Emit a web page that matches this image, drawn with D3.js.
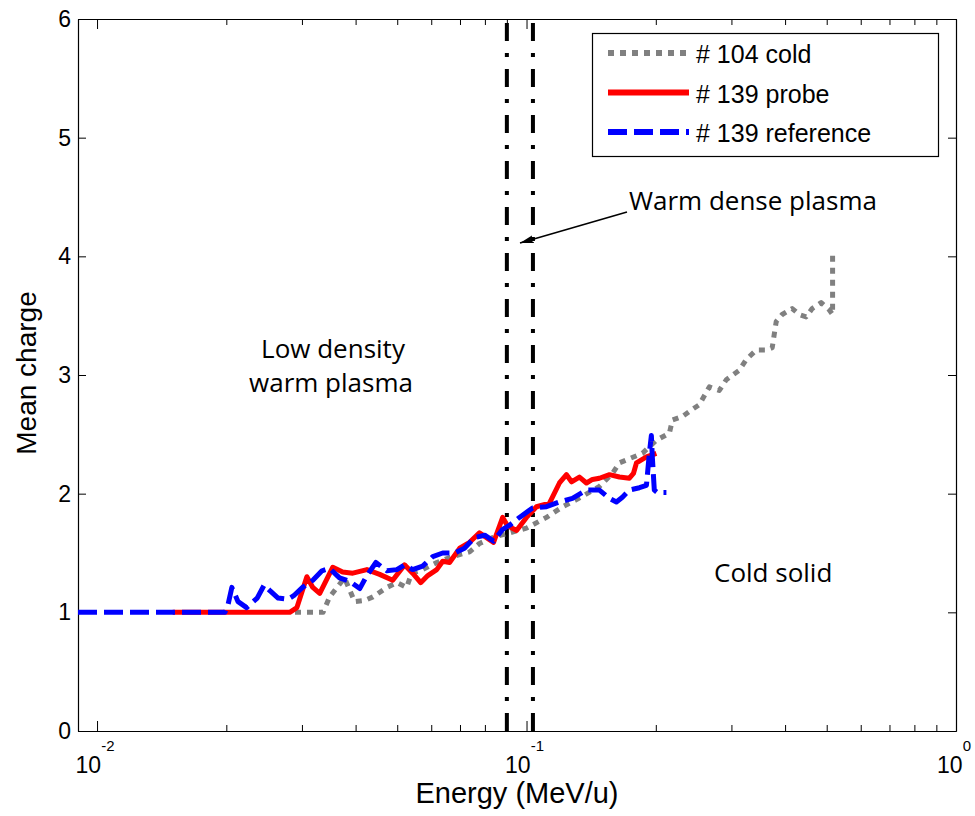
<!DOCTYPE html>
<html>
<head>
<meta charset="utf-8">
<script src="https://cdn.jsdelivr.net/npm/d3@7"></script>
<style>
  body { margin: 0; background: #fff; }
  svg { display: block; }
  text { font-family: "Liberation Sans", Arial, sans-serif; fill: #000; }
  .note { font-family: "Open Sans", "Noto Sans", sans-serif; }
</style>
</head>
<body>
<script>
var width = 975,
  height = 816,
  plotLeft = 78,
  plotRight = 956,
  plotTop = 19,
  plotBottom = 731;

// # 104 cold
var coldE = [0.0289, 0.0336, 0.0348, 0.0362, 0.0377, 0.0398, 0.042, 0.0439, 0.0473, 0.0499,
  0.0526, 0.054, 0.0573, 0.0618, 0.0673, 0.0737, 0.0777, 0.0834, 0.0913, 0.1, 0.1113,
  0.1213, 0.1307, 0.1478, 0.1585, 0.1646, 0.1861, 0.2006, 0.2151, 0.2186, 0.2306, 0.2432,
  0.2526, 0.2665, 0.2811, 0.2918, 0.3129, 0.3248, 0.3426, 0.3614, 0.3733, 0.3773, 0.3814,
  0.3938, 0.4155, 0.4314, 0.4479, 0.4625, 0.4853, 0.5066, 0.516, 0.516];
var coldQ = [1.0, 1.0, 1.13, 1.21, 1.29, 1.09, 1.1, 1.13, 1.21, 1.25,
  1.21, 1.33, 1.36, 1.42, 1.47, 1.51, 1.58, 1.63, 1.67, 1.71, 1.8,
  1.89, 1.95, 2.06, 2.17, 2.26, 2.34, 2.45, 2.51, 2.62, 2.65, 2.71,
  2.75, 2.9, 2.87, 2.96, 3.04, 3.13, 3.21, 3.21, 3.23, 3.34, 3.45,
  3.51, 3.56, 3.51, 3.49, 3.56, 3.61, 3.55, 3.51, 4.01];

// # 139 probe
var probeE = [0.015, 0.0281, 0.0292, 0.0308, 0.0318, 0.033, 0.0354, 0.0373, 0.0394, 0.0425,
  0.0455, 0.0488, 0.052, 0.0543, 0.0567, 0.0589, 0.0618, 0.0638, 0.0662, 0.0699, 0.0737,
  0.0777, 0.0807, 0.0838, 0.088, 0.0903, 0.0948, 0.1, 0.1055, 0.1131, 0.1193, 0.1239,
  0.1273, 0.1328, 0.1379, 0.1424, 0.1478, 0.156, 0.1646, 0.1736, 0.1774, 0.1803, 0.1902, 0.2006];
var probeQ = [1.0, 1.0, 1.04, 1.3, 1.21, 1.16, 1.38, 1.34, 1.33, 1.36,
  1.32, 1.27, 1.4, 1.33, 1.25, 1.31, 1.36, 1.43, 1.42, 1.54, 1.59,
  1.67, 1.63, 1.59, 1.8, 1.73, 1.69, 1.8, 1.89, 1.92, 2.09, 2.16,
  2.1, 2.14, 2.09, 2.12, 2.13, 2.16, 2.14, 2.13, 2.17, 2.26, 2.31, 2.34];

// # 139 reference
var refE = [0.00903, 0.01985, 0.0202, 0.0206, 0.0213, 0.0223, 0.0236, 0.0245, 0.0253, 0.0264,
  0.0278, 0.0287, 0.0301, 0.0318, 0.0334, 0.0348, 0.0367, 0.0388, 0.0409, 0.0425, 0.0446,
  0.0473, 0.0499, 0.052, 0.0543, 0.0573, 0.0605, 0.0638, 0.068, 0.0717, 0.0757, 0.0799,
  0.0838, 0.088, 0.0918, 0.0963, 0.1033, 0.1113, 0.1193, 0.1279, 0.1379, 0.1478, 0.156,
  0.1619, 0.1672, 0.1736, 0.1832, 0.1902, 0.1932, 0.1953, 0.1963, 0.1984, 0.2017, 0.2117];
var refQ = [1.0, 1.0, 1.07, 1.21, 1.09, 1.04, 1.12, 1.23, 1.18, 1.12,
  1.11, 1.14, 1.21, 1.27, 1.35, 1.37, 1.29, 1.26, 1.2, 1.31, 1.42,
  1.35, 1.36, 1.4, 1.36, 1.39, 1.47, 1.5, 1.5, 1.54, 1.63, 1.65,
  1.6, 1.7, 1.74, 1.8, 1.88, 1.89, 1.93, 1.96, 2.03, 2.03, 1.96,
  1.93, 1.97, 2.03, 2.05, 2.07, 2.34, 2.49, 2.31, 2.03, 2.01, 2.01];

var boundaryE = [0.09, 0.1035];
var xMajor = [0.01, 0.1, 1];
var xMinor = [0.02, 0.03, 0.04, 0.05, 0.06, 0.07, 0.08, 0.09,
  0.2, 0.3, 0.4, 0.5, 0.6, 0.7, 0.8, 0.9];
var xExp = ["-2", "-1", "0"];
var yTicks = [0, 1, 2, 3, 4, 5, 6];

var series = [
  { name: "# 104 cold", e: coldE, q: coldQ, color: "#808080", dash: "6,6", w: 5 },
  { name: "# 139 probe", e: probeE, q: probeQ, color: "#ff0000", dash: null, w: 5 },
  { name: "# 139 reference", e: refE, q: refQ, color: "#0000ff", dash: "19,7", w: 5 }
];

var svg = d3.select("body").append("svg")
  .attr("width", width)
  .attr("height", height);

var x = d3.scaleLog().domain([0.00903, 1]).range([plotLeft, plotRight]);
var y = d3.scaleLinear().domain([0, 6]).range([plotBottom, plotTop]);

// box ticks (inward, on all sides)
function tickStyle(g) {
  g.selectAll("path").attr("stroke", "#000").attr("stroke-width", 1.2);
  g.selectAll("line").attr("stroke", "#000").attr("stroke-width", 1);
  g.selectAll("text").remove();
}

svg.append("g").attr("transform", `translate(0,${plotBottom})`)
  .call(d3.axisBottom(x).tickValues(xMajor).tickSize(-10).tickSizeOuter(0).tickFormat(""))
  .call(tickStyle);
svg.append("g").attr("transform", `translate(0,${plotBottom})`)
  .call(d3.axisBottom(x).tickValues(xMinor).tickSize(-6).tickSizeOuter(0).tickFormat(""))
  .call(tickStyle);
svg.append("g").attr("transform", `translate(0,${plotTop})`)
  .call(d3.axisTop(x).tickValues(xMajor).tickSize(-10).tickSizeOuter(0).tickFormat(""))
  .call(tickStyle);
svg.append("g").attr("transform", `translate(0,${plotTop})`)
  .call(d3.axisTop(x).tickValues(xMinor).tickSize(-6).tickSizeOuter(0).tickFormat(""))
  .call(tickStyle);
svg.append("g").attr("transform", `translate(${plotLeft},0)`)
  .call(d3.axisLeft(y).tickValues(yTicks).tickSize(-8).tickSizeOuter(0).tickFormat(""))
  .call(tickStyle);
svg.append("g").attr("transform", `translate(${plotRight},0)`)
  .call(d3.axisRight(y).tickValues(yTicks).tickSize(-8).tickSizeOuter(0).tickFormat(""))
  .call(tickStyle);

// tick labels
svg.append("g").selectAll("text")
  .data(yTicks)
  .enter()
  .append("text")
  .attr("x", 71)
  .attr("y", (d) => y(d) + 8)
  .attr("text-anchor", "end")
  .attr("font-size", 23)
  .text((d) => d);

var xl = svg.append("g").selectAll("text")
  .data(xMajor)
  .enter()
  .append("text")
  .attr("x", (d) => x(d) - 2)
  .attr("y", 773)
  .attr("text-anchor", "middle")
  .attr("font-size", 23);
xl.append("tspan").text("10");
xl.append("tspan").attr("dy", -22).attr("font-size", 15).text((d, i) => xExp[i]);

// axis titles
svg.append("text")
  .attr("x", 517)
  .attr("y", 803)
  .attr("text-anchor", "middle")
  .attr("font-size", 29)
  .text("Energy (MeV/u)");

svg.append("text")
  .attr("transform", "translate(36,373) rotate(-90)")
  .attr("text-anchor", "middle")
  .attr("font-size", 28)
  .text("Mean charge");

// region boundaries
svg.append("g").selectAll("line")
  .data(boundaryE)
  .enter()
  .append("line")
  .attr("x1", (d) => x(d))
  .attr("x2", (d) => x(d))
  .attr("y1", y(0))
  .attr("y2", y(6))
  .attr("stroke", "#000")
  .attr("stroke-width", 4)
  .attr("stroke-dasharray", "18,12,4,12");

// data lines
var line = d3.line()
  .x((d) => x(d[0]))
  .y((d) => y(d[1]));

series.forEach((s) => {
  svg.append("path")
    .datum(s.e.map((e, i) => [e, s.q[i]]))
    .attr("d", line)
    .attr("fill", "none")
    .attr("stroke", s.color)
    .attr("stroke-width", s.w)
    .attr("stroke-linejoin", "round")
    .attr("stroke-dasharray", s.dash);
});

// legend
var legend = svg.append("g");
legend.append("rect")
  .attr("x", 592.5)
  .attr("y", 33.5)
  .attr("width", 346)
  .attr("height", 123)
  .attr("fill", "#fff")
  .attr("stroke", "#000")
  .attr("stroke-width", 1.2);

var rows = legend.selectAll("g.row")
  .data(series)
  .enter()
  .append("g")
  .attr("class", "row")
  .attr("transform", (d, i) => `translate(0,${53 + i * 39.5})`);
rows.append("line")
  .attr("x1", 608)
  .attr("x2", 689)
  .attr("stroke", (d) => d.color)
  .attr("stroke-width", 6)
  .attr("stroke-dasharray", (d) => d.dash);
rows.append("text")
  .attr("x", 696)
  .attr("y", 10)
  .attr("font-size", 25)
  .text((d) => d.name);

// annotations
svg.append("defs").append("marker")
  .attr("id", "head")
  .attr("viewBox", "0 0 14 8")
  .attr("refX", 14)
  .attr("refY", 4)
  .attr("markerWidth", 14)
  .attr("markerHeight", 8)
  .attr("markerUnits", "userSpaceOnUse")
  .attr("orient", "auto")
  .append("path")
  .attr("d", "M0,0L14,4L0,8L3,4Z")
  .attr("fill", "#000");

svg.append("line")
  .attr("x1", 627)
  .attr("y1", 212)
  .attr("x2", 520)
  .attr("y2", 243)
  .attr("stroke", "#000")
  .attr("stroke-width", 1.6)
  .attr("marker-end", "url(#head)");

var notes = [
  { t: "Warm dense plasma", x: 629, y: 210, a: "start" },
  { t: "Low density", x: 333, y: 358, a: "middle" },
  { t: "warm plasma", x: 331, y: 392, a: "middle" },
  { t: "Cold solid", x: 714, y: 582, a: "start" }
];
svg.append("g").selectAll("text")
  .data(notes)
  .enter()
  .append("text")
  .attr("class", "note")
  .attr("x", (d) => d.x)
  .attr("y", (d) => d.y)
  .attr("text-anchor", (d) => d.a)
  .attr("font-size", 26)
  .text((d) => d.t);
</script>
</body>
</html>
